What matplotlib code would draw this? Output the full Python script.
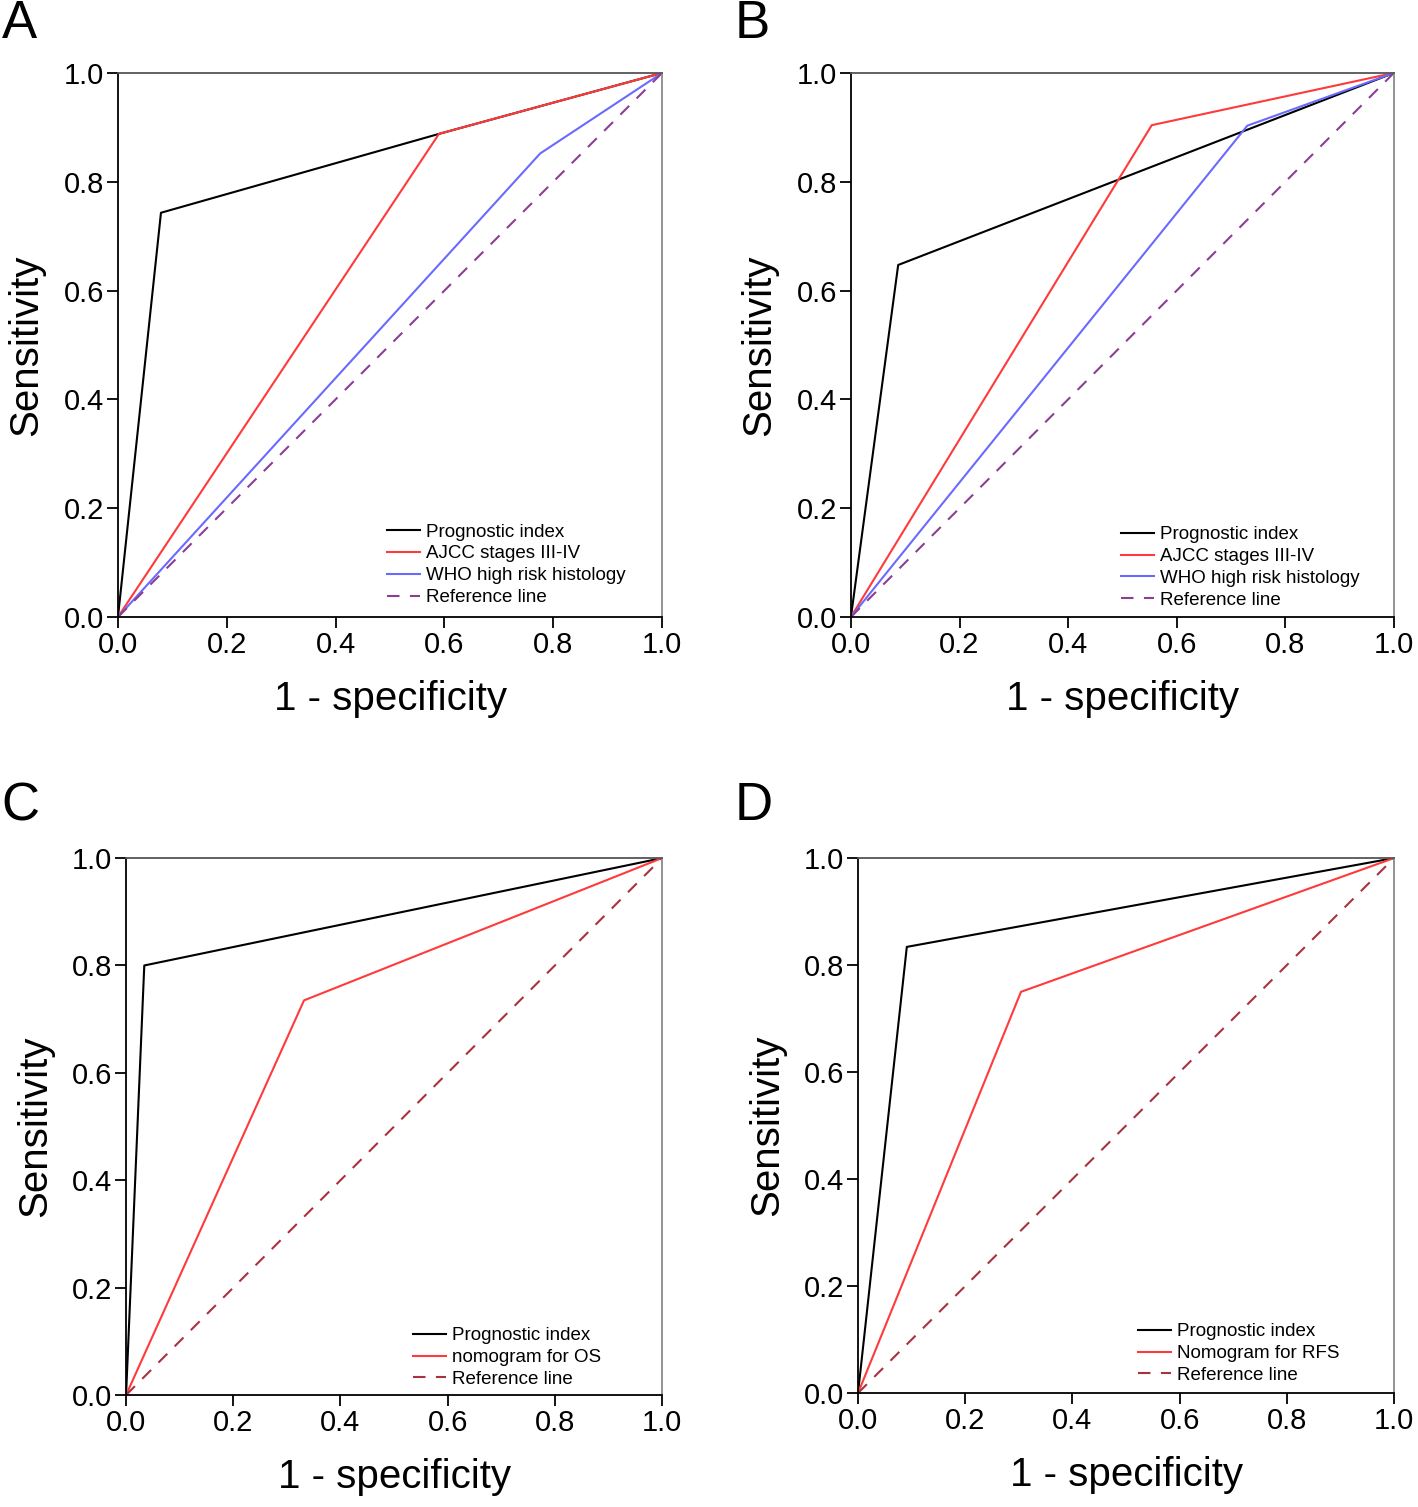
import matplotlib
matplotlib.use('Agg')
import matplotlib.pyplot as plt

plt.rcParams['font.family'] = ['Liberation Sans', 'DejaVu Sans']

# Panel A (ROC points: 1 - specificity, sensitivity)
a_pi_x = [0.0, 0.079, 0.59, 1.0]
a_pi_y = [0.0, 0.743, 0.888, 1.0]
a_ajcc_x = [0.0, 0.59, 1.0]
a_ajcc_y = [0.0, 0.888, 1.0]
a_who_x = [0.0, 0.776, 1.0]
a_who_y = [0.0, 0.852, 1.0]

# Panel B
b_pi_x = [0.0, 0.087, 1.0]
b_pi_y = [0.0, 0.647, 1.0]
b_ajcc_x = [0.0, 0.554, 1.0]
b_ajcc_y = [0.0, 0.904, 1.0]
b_who_x = [0.0, 0.73, 1.0]
b_who_y = [0.0, 0.903, 1.0]

# Panel C
c_pi_x = [0.0, 0.034, 1.0]
c_pi_y = [0.0, 0.80, 1.0]
c_nomo_x = [0.0, 0.332, 1.0]
c_nomo_y = [0.0, 0.735, 1.0]

# Panel D
d_pi_x = [0.0, 0.091, 1.0]
d_pi_y = [0.0, 0.834, 1.0]
d_nomo_x = [0.0, 0.304, 1.0]
d_nomo_y = [0.0, 0.75, 1.0]

ticks = [0.0, 0.2, 0.4, 0.6, 0.8, 1.0]
tick_labels = ['0.0', '0.2', '0.4', '0.6', '0.8', '1.0']

RED = '#ff3a3a'
BLUE = '#6a6aff'
PURPLE = '#8b3f93'
DRED = '#a8333f'

fig = plt.figure(figsize=(14.18, 15.07), dpi=100)

boxes = {
    'A': [0.0832, 0.5906, 0.3837, 0.361],
    'B': [0.6001, 0.5906, 0.3829, 0.361],
    'C': [0.0889, 0.0743, 0.3780, 0.3563],
    'D': [0.6051, 0.0756, 0.3780, 0.3550],
}
# panel letter positions (figure fraction)
letter_pos = {
    'A': (0.001, 0.984),
    'B': (0.518, 0.984),
    'C': (0.001, 0.465),
    'D': (0.518, 0.465),
}


def style_ax(ax, letter):
    ax.set_xlim(0, 1)
    ax.set_ylim(0, 1)
    ax.set_xticks(ticks)
    ax.set_yticks(ticks)
    ax.set_xticklabels(tick_labels)
    ax.set_yticklabels(tick_labels)
    ax.tick_params(direction='out', length=8, width=1.3, labelsize=21, pad=2)
    ax.spines['left'].set_linewidth(1.3)
    ax.spines['bottom'].set_linewidth(1.3)
    ax.spines['top'].set_color('#555555')
    ax.spines['top'].set_linewidth(1.3)
    ax.spines['right'].set_color('#8a8a8a')
    ax.spines['right'].set_linewidth(1.3)
    ax.set_xlabel('1 - specificity', fontsize=29, labelpad=15)
    ax.set_ylabel('Sensitivity', fontsize=29, labelpad=13)
    lx, ly = letter_pos[letter]
    fig.text(lx, ly, letter, fontsize=38, ha='left', va='center')


def add_legend(ax, bbox):
    leg = ax.legend(loc='lower left', bbox_to_anchor=bbox, frameon=False,
                    fontsize=13.5, handlelength=1.75, handletextpad=0.35,
                    labelspacing=0.25, borderpad=0, borderaxespad=0)
    return leg


lw = 1.5

# A
ax = fig.add_axes(boxes['A'])
ax.plot(a_pi_x, a_pi_y, color='black', lw=lw, label='Prognostic index')
ax.plot(a_ajcc_x, a_ajcc_y, color=RED, lw=lw, label='AJCC stages III-IV')
ax.plot(a_who_x, a_who_y, color=BLUE, lw=lw, label='WHO high risk histology')
ax.plot([0, 1], [0, 1], color=PURPLE, lw=lw, ls=(0, (6, 5)), label='Reference line')
style_ax(ax, 'A')
add_legend(ax, (0.494, 0.02))

# B
ax = fig.add_axes(boxes['B'])
ax.plot(b_pi_x, b_pi_y, color='black', lw=lw, label='Prognostic index')
ax.plot(b_ajcc_x, b_ajcc_y, color=RED, lw=lw, label='AJCC stages III-IV')
ax.plot(b_who_x, b_who_y, color=BLUE, lw=lw, label='WHO high risk histology')
ax.plot([0, 1], [0, 1], color=PURPLE, lw=lw, ls=(0, (6, 5)), label='Reference line')
style_ax(ax, 'B')
add_legend(ax, (0.497, 0.015))

# C
ax = fig.add_axes(boxes['C'])
ax.plot(c_pi_x, c_pi_y, color='black', lw=lw, label='Prognostic index')
ax.plot(c_nomo_x, c_nomo_y, color=RED, lw=lw, label='nomogram for OS')
ax.plot([0, 1], [0, 1], color=DRED, lw=lw, ls=(0, (6, 5)), label='Reference line')
style_ax(ax, 'C')
add_legend(ax, (0.535, 0.013))

# D
ax = fig.add_axes(boxes['D'])
ax.plot(d_pi_x, d_pi_y, color='black', lw=lw, label='Prognostic index')
ax.plot(d_nomo_x, d_nomo_y, color=RED, lw=lw, label='Nomogram for RFS')
ax.plot([0, 1], [0, 1], color=DRED, lw=lw, ls=(0, (6, 5)), label='Reference line')
style_ax(ax, 'D')
add_legend(ax, (0.522, 0.017))

fig.savefig('out.png', dpi=100)
